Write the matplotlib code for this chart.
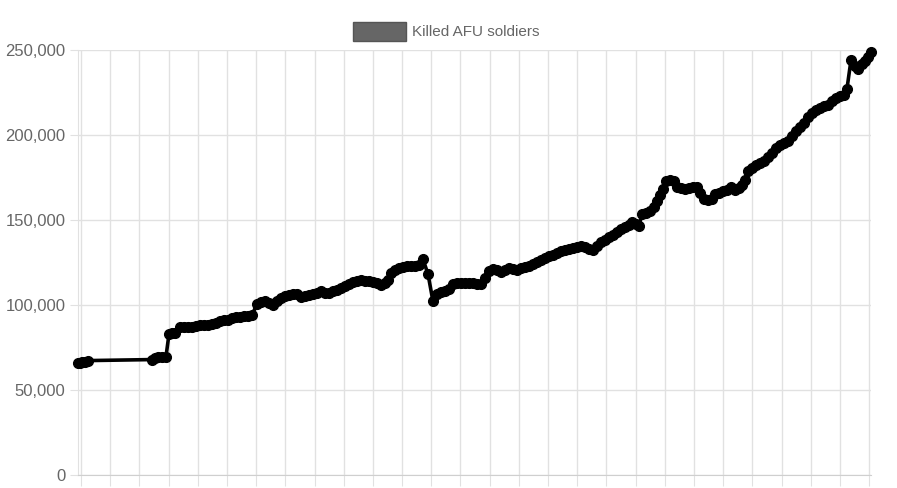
import matplotlib.pyplot as plt
import matplotlib.ticker as mticker
from matplotlib.patches import Rectangle
import numpy as np

plt.rcParams['font.family'] = ['Liberation Sans', 'DejaVu Sans']

# days since the first month gridline, killed soldiers (cumulative)
days = [-3, -1, 1, 4, 7, 71, 74, 77, 81, 85,
        88, 91, 94, 99, 103, 107, 111, 115, 119, 123,
        127, 131, 135, 139, 143, 147, 151, 155, 159, 163,
        167, 171, 176, 180, 184, 188, 192, 196, 200, 204,
        208, 212, 216, 220, 224, 228, 232, 236, 240, 244,
        248, 252, 256, 260, 264, 268, 272, 276, 280, 284,
        288, 292, 296, 300, 304, 307, 310, 314, 318, 322,
        326, 330, 334, 338, 342, 347, 352, 356, 360, 364,
        368, 372, 376, 380, 384, 388, 392, 396, 400, 404,
        408, 412, 416, 420, 424, 428, 432, 436, 440, 444,
        448, 452, 456, 460, 464, 468, 472, 476, 480, 484,
        488, 492, 496, 500, 504, 508, 512, 516, 520, 524,
        528, 532, 536, 540, 544, 548, 551, 555, 558, 561,
        565, 569, 573, 576, 579, 582, 585, 589, 593, 596,
        600, 604, 608, 612, 616, 619, 623, 627, 631, 634,
        638, 642, 646, 650, 654, 658, 661, 664, 667, 671,
        675, 679, 683, 687, 691, 695, 699, 703, 707, 711,
        715, 719, 723, 727, 731, 735, 739, 743, 747, 751,
        755, 759, 763, 766, 770, 774, 777, 781, 784, 787,
        790]
killed = [65900, 65900, 66200, 66500, 67300, 67900, 68800, 69400, 69400, 69700,
          82900, 83500, 83500, 86800, 87100, 87300, 87300, 87900, 88200, 88200,
          88200, 88800, 89700, 90300, 90900, 91200, 92100, 92900, 93200, 93500,
          93800, 94100, 100600, 101500, 102100, 101200, 100000, 102300, 104100, 105300,
          105900, 106500, 106500, 104700, 105300, 105900, 106500, 107000, 108200, 107000,
          106800, 108200, 109100, 110000, 111200, 112300, 113500, 114100, 114700, 114400,
          114100, 113500, 112900, 111800, 112900, 114700, 118800, 120600, 121800, 122600,
          122900, 123200, 123200, 123500, 126800, 118200, 102100, 106500, 107400, 108200,
          109400, 112300, 112900, 113200, 113200, 113200, 112900, 112300, 112300, 115600,
          120000, 120900, 120600, 119700, 120300, 121500, 120900, 120300, 121500, 122300,
          123200, 124400, 125300, 126500, 127900, 129100, 129700, 130600, 131800, 132600,
          132900, 133500, 134100, 135000, 134400, 132900, 132100, 134700, 137100, 138500,
          140000, 141200, 142900, 144700, 145600, 147100, 149100, 147400, 146500, 153500,
          154400, 155300, 157600, 160900, 164700, 168200, 172900, 173500, 172900, 169700,
          168800, 168200, 168800, 169700, 169400, 165900, 162100, 161500, 162400, 165300,
          165900, 166800, 167600, 169400, 167400, 168800, 170600, 173500, 178800, 180600,
          182100, 183500, 184700, 187100, 189700, 192400, 194100, 195300, 196500, 199400,
          202400, 205000, 207300, 210600, 213200, 214700, 215600, 216800, 217900, 220000,
          221800, 222900, 223800, 227300, 244100, 240600, 238800, 241800, 243800, 245900,
          248800]

month_ticks = np.arange(28) * 29.19
grid_color = '#e1e1e1'
text_color = '#666666'

fig = plt.figure(figsize=(8.97, 4.88), dpi=100)
ax = fig.add_axes([78 / 897, 13 / 488, 793 / 897, 425 / 488])

ax.plot(days, killed, color='black', linewidth=2.6, marker='o',
        markersize=7, markerfacecolor='black', markeredgecolor='black',
        clip_on=False, zorder=3)

ax.set_xlim(-3, 790)
ax.set_ylim(0, 250000)
ax.set_xticks(month_ticks)
ax.set_yticks(np.arange(0, 250001, 50000))
ax.yaxis.set_major_formatter(mticker.FuncFormatter(lambda v, p: f'{int(v):,}'))
ax.tick_params(axis='x', length=8, color=grid_color, labelbottom=False)
ax.tick_params(axis='y', length=6, color=grid_color, labelsize=12,
               labelcolor=text_color, pad=3)
ax.grid(True, color=grid_color, linewidth=1)
ax.set_axisbelow(True)
for side in ['top', 'right']:
    ax.spines[side].set_visible(False)
ax.spines['left'].set_color(grid_color)
ax.spines['bottom'].set_color('#cfcfcf')

# legend drawn like the chart.js one
fig.patches.append(Rectangle((353 / 897, (488 - 41) / 488), 53 / 897, 19 / 488,
                             transform=fig.transFigure, facecolor='#666666',
                             edgecolor='#555555', linewidth=1))
fig.text(412 / 897, (488 - 31.5) / 488, 'Killed AFU soldiers', fontsize=11,
         color=text_color, va='center', ha='left')

fig.savefig('out.png', dpi=100)
